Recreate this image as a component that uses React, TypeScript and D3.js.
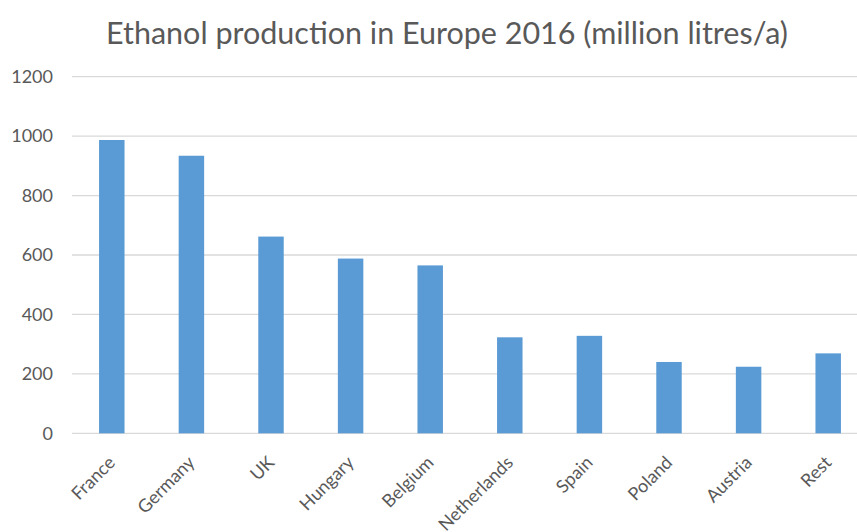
import React from 'react';
import * as d3 from 'd3';

const countries = ['France', 'Germany', 'UK', 'Hungary', 'Belgium', 'Netherlands', 'Spain', 'Poland', 'Austria', 'Rest'];
const production = [987, 934, 662, 588, 565, 323, 328, 240, 224, 269];
const yTicks = [0, 200, 400, 600, 800, 1000, 1200];
const title = 'Ethanol production in Europe 2016 (million litres/a)';

const App: React.FC = () => {
  const width = 857;
  const height = 532;
  const margin = { top: 77, right: -11, bottom: 99, left: 72 };

  const x = d3.scaleBand()
    .domain(countries)
    .range([margin.left, width - margin.right])
    .paddingInner(0.68)
    .paddingOuter(0.34);

  const y = d3.scaleLinear()
    .domain([0, 1200])
    .range([height - margin.bottom + 0.3, margin.top - 0.3]);

  const font = 'Lato, "Open Sans", sans-serif';

  return (
    <svg
      width={width}
      height={height}
      style={{ position: 'absolute', left: 0, top: 0, background: '#fff' }}
    >
      <text x={447} y={44} textAnchor="middle" fill="#595959" fontSize={30.5} fontFamily={font}>
        {title}
      </text>

      {/* grid + y labels */}
      {yTicks.map(t => (
        <g key={t}>
          <line x1={margin.left} x2={width} y1={y(t)} y2={y(t)} stroke="#d9d9d9" strokeWidth={1.3} />
          <text x={53} y={y(t)} dy="0.35em" textAnchor="end" fill="#595959" fontSize={18} fontFamily={font}>
            {t}
          </text>
        </g>
      ))}

      {/* bars */}
      {countries.map((c, i) => (
        <rect
          key={c}
          x={x(c) || 0}
          y={y(production[i])}
          width={x.bandwidth()}
          height={y(0) - y(production[i])}
          fill="#5b9bd5"
        />
      ))}

      {/* x labels */}
      {countries.map(c => {
        const cx = (x(c) || 0) + x.bandwidth() / 2;
        return (
          <text
            key={c}
            transform={`translate(${cx},${y(0) + 26}) rotate(-45)`}
            textAnchor="end"
            dy="0.35em"
            fill="#595959"
            fontSize={18}
            fontFamily={font}
          >
            {c}
          </text>
        );
      })}
    </svg>
  );
};

export default App;
